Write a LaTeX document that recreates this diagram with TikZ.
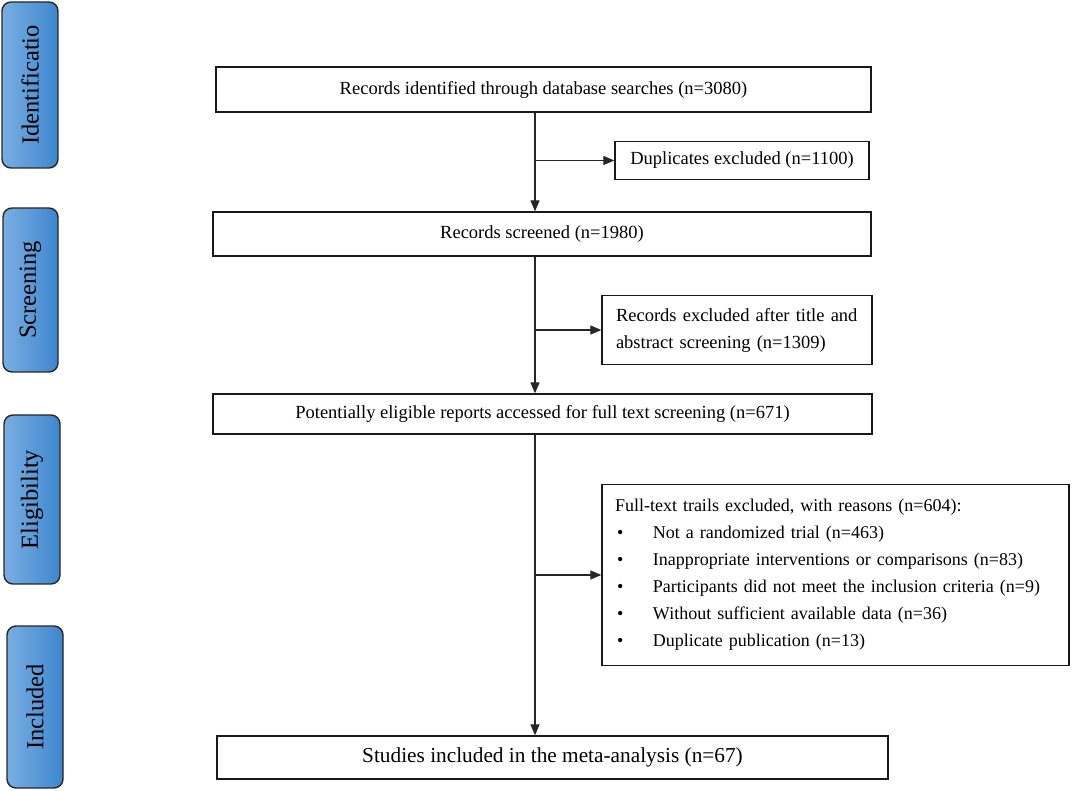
\documentclass[tikz,border=0pt]{standalone}
\usepackage{fontspec}
\setmainfont{Liberation Serif}
\usetikzlibrary{arrows.meta}
\definecolor{sideL}{RGB}{122,174,226}
\definecolor{sideR}{RGB}{62,134,206}
\tikzset{
  flowbox/.style={draw=black!90, line width=1.3pt, fill=white, inner sep=0pt, align=center,
    font=\fontsize{18.5}{27}\selectfont},
  sidebox/.style={draw=black!85, line width=1.4pt, rounded corners=9pt, left color=sideL, right color=sideR,
    inner sep=0pt, font=\fontsize{24.5}{28}\selectfont},
  sidetext/.style={rotate=90, font=\fontsize{24.5}{28}\selectfont},
  arr/.style={draw=black!85, line width=1.2pt, -{Triangle[length=11pt,width=9pt]}},
}
\begin{document}
\begin{tikzpicture}[x=1pt,y=-1pt]
\useasboundingbox (0,0) rectangle (1072,791);
% side labels
\node[sidebox, minimum width=56pt, minimum height=166pt] (sid) at (30,85) {};
\node[sidetext] (sidt) at (sid.center) {Identificatio};
\node[sidebox, minimum width=55pt, minimum height=164pt] (ssc) at (30.5,290) {};
\node[sidetext] (ssct) at (ssc.center) {Screening};
\node[sidebox, minimum width=56pt, minimum height=169pt] (sel) at (32,499.5) {};
\node[sidetext] (selt) at (sel.center) {Eligibility};
\node[sidebox, minimum width=56pt, minimum height=162pt] (sin) at (35,707) {};
\node[sidetext] (sint) at (sin.center) {Included};
% main boxes
\node[flowbox, minimum width=655pt, minimum height=45pt] (b1) at (543.5,89.5)
  {Records identified through database searches (n=3080)};
\node[flowbox, minimum width=254pt, minimum height=38pt] (dup) at (742,160.5)
  {Duplicates excluded (n=1100)};
\node[flowbox, minimum width=658pt, minimum height=44pt] (b2) at (542,234)
  {Records screened (n=1980)};
\node[flowbox, minimum width=270pt, minimum height=69pt, text width=242pt, align=left] (ex) at (737,330)
  {Records excluded after title and\\abstract screening (n=1309)};
\node[flowbox, minimum width=659pt, minimum height=40pt] (b4) at (542.5,414)
  {Potentially eligible reports accessed for full text screening (n=671)};
\node[flowbox, minimum width=467pt, minimum height=181pt, text width=441pt, align=left,
      font=\fontsize{18}{27}\selectfont] (ft) at (835.5,575)
  {Full-text trails excluded, with reasons (n=604):\\
   \makebox[38pt][l]{\hspace{2pt}\textbullet}Not a randomized trial (n=463)\\
   \makebox[38pt][l]{\hspace{2pt}\textbullet}Inappropriate interventions or comparisons (n=83)\\
   \makebox[38pt][l]{\hspace{2pt}\textbullet}Participants did not meet the inclusion criteria (n=9)\\
   \makebox[38pt][l]{\hspace{2pt}\textbullet}Without sufficient available data (n=36)\\
   \makebox[38pt][l]{\hspace{2pt}\textbullet}Duplicate publication (n=13)};
\node[flowbox, minimum width=671pt, minimum height=43pt, font=\fontsize{21.3}{26}\selectfont] (b6) at (552.5,757.5)
  {Studies included in the meta-analysis (n=67)};
% spine
\coordinate (sp) at (535,0);
\draw[arr] (b1.south -| sp) -- (b2.north -| sp);
\draw[arr] (dup.west -| sp) -- (dup.west);
\draw[arr] (b2.south -| sp) -- (b4.north -| sp);
\draw[arr] (ex.west -| sp) -- (ex.west);
\draw[arr] (b4.south -| sp) -- (b6.north -| sp);
\draw[arr] (ft.west -| sp) -- (ft.west);
\end{tikzpicture}
\end{document}
